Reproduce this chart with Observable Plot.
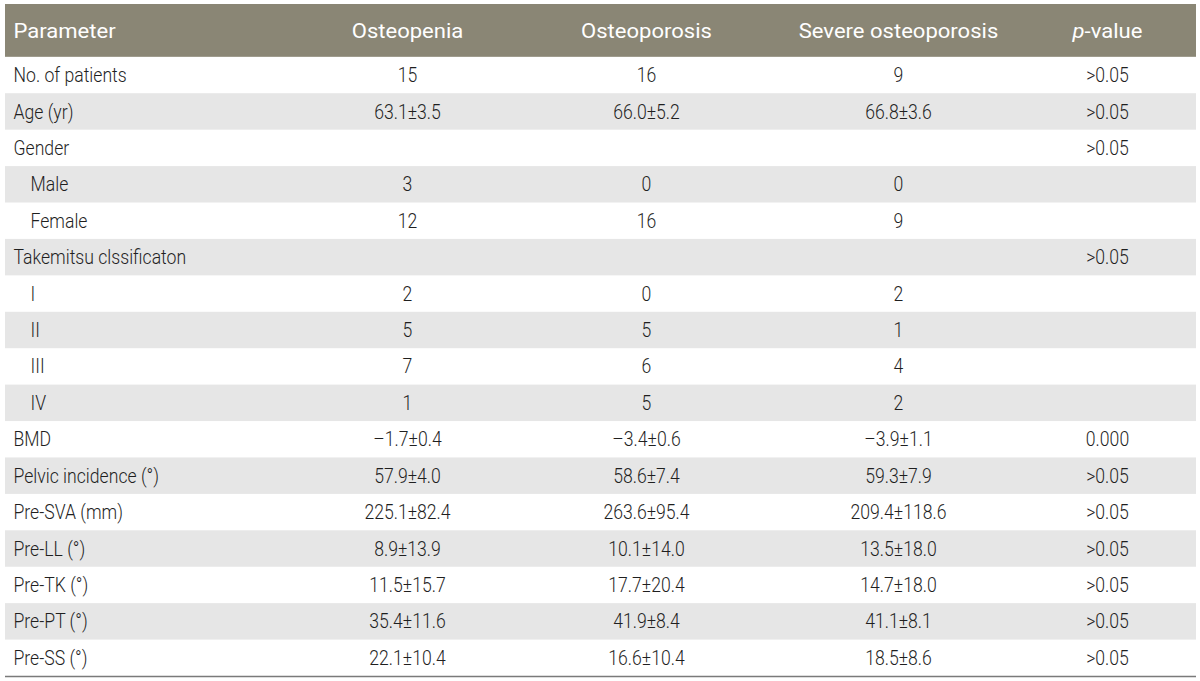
<!DOCTYPE html>
<html><head><meta charset="utf-8">
<script src="https://cdn.jsdelivr.net/npm/d3@7"></script>
<script src="https://cdn.jsdelivr.net/npm/@observablehq/plot@0.6"></script>
<style>body{margin:0;background:#fff}</style>
</head><body><div id="chart"></div>
<script>
// ---- data ----
const columns = ["Parameter", "Osteopenia", "Osteoporosis", "Severe osteoporosis", "p-value"];
const parameters = ["No. of patients", "Age (yr)", "Gender", "Male", "Female", "Takemitsu clssificaton", "I", "II", "III", "IV", "BMD", "Pelvic incidence (°)", "Pre-SVA (mm)", "Pre-LL (°)", "Pre-TK (°)", "Pre-PT (°)", "Pre-SS (°)"];
const indented = [false, false, false, true, true, false, true, true, true, true, false, false, false, false, false, false, false];
const osteopenia = ["15", "63.1±3.5", "", "3", "12", "", "2", "5", "7", "1", "–1.7±0.4", "57.9±4.0", "225.1±82.4", "8.9±13.9", "11.5±15.7", "35.4±11.6", "22.1±10.4"];
const osteoporosis = ["16", "66.0±5.2", "", "0", "16", "", "0", "5", "6", "5", "–3.4±0.6", "58.6±7.4", "263.6±95.4", "10.1±14.0", "17.7±20.4", "41.9±8.4", "16.6±10.4"];
const severe = ["9", "66.8±3.6", "", "0", "9", "", "2", "1", "4", "2", "–3.9±1.1", "59.3±7.9", "209.4±118.6", "13.5±18.0", "14.7±18.0", "41.1±8.1", "18.5±8.6"];
const pValues = [">0.05", ">0.05", ">0.05", "", "", ">0.05", "", "", "", "", "0.000", ">0.05", ">0.05", ">0.05", ">0.05", ">0.05", ">0.05"];

// ---- layout ----
const colX = {"Parameter": 13, "Osteopenia": 407, "Osteoporosis": 646, "Severe osteoporosis": 898, "p-value": 1107};
const indentX = 30;
const tableLeft = 5, tableRight = 1196;
const headerRows = 1.45;
const headerFill = "#8a8675", stripeFill = "#e6e6e6", textFill = "#1f1f1f";
const font = "Roboto, 'DejaVu Sans Condensed', sans-serif";
const bodySize = 20.5, bodyStretch = 0.86, headerSize = 21, headerStretch = 1.05;

const rows = parameters.map((p, i) => ({i, p, ind: indented[i]}));
const cells = [];
parameters.forEach((p, i) => {
  [["Osteopenia", osteopenia], ["Osteoporosis", osteoporosis], ["Severe osteoporosis", severe], ["p-value", pValues]]
    .forEach(([c, arr]) => { if (arr[i] !== "") cells.push({i, c, v: arr[i]}); });
});
const header = columns.map(c => ({c}));
const n = parameters.length;

const chart = Plot.plot({
  width: 1200, height: 681,
  margin: 0,
  style: {fontFamily: font, background: "#fff"},
  x: {type: "linear", domain: [0, 1200], range: [0, 1200], axis: null},
  y: {type: "linear", domain: [-headerRows, n], range: [4, 676], axis: null},
  marks: [
    Plot.rect([0], {x1: tableLeft, x2: tableRight, y1: -headerRows, y2: 0, fill: headerFill}),
    Plot.rect(rows.filter(d => d.i % 2 === 1), {x1: tableLeft, x2: tableRight, y1: d => d.i, y2: d => d.i + 1, fill: stripeFill}),
    Plot.ruleY([n], {x1: tableLeft, x2: tableRight, stroke: "#7a7a7a", strokeWidth: 1.5}),
    Plot.text(header.filter(d => d.c === "Parameter"), {x: d => colX[d.c], y: -headerRows / 2, text: "c", fill: "#fff", fontSize: headerSize, fontWeight: 400, textAnchor: "start", className: "hdr"}),
    Plot.text(header.filter(d => d.c !== "Parameter"), {x: d => colX[d.c], y: -headerRows / 2, text: "c", fill: "#fff", fontSize: headerSize, fontWeight: 400, textAnchor: "middle", className: "hdr"}),
    Plot.text(rows, {x: d => d.ind ? indentX : colX["Parameter"], y: d => d.i + 0.5, text: "p", fill: textFill, fontSize: bodySize, fontWeight: 300, textAnchor: "start", className: "body"}),
    Plot.text(cells, {x: d => colX[d.c], y: d => d.i + 0.5, text: "v", fill: textFill, fontSize: bodySize, fontWeight: 300, textAnchor: "middle", className: "body"})
  ]
});
// condensed look: squeeze each label horizontally about its anchor
chart.querySelectorAll("g.body text").forEach(t => {
  t.setAttribute("transform", (t.getAttribute("transform") || "") + ` scale(${bodyStretch},1)`);
});
chart.querySelectorAll("g.hdr text").forEach(t => {
  t.setAttribute("transform", (t.getAttribute("transform") || "") + ` scale(${headerStretch},1)`);
});
// italic p in "p-value"
const ns = "http://www.w3.org/2000/svg";
chart.querySelectorAll("text").forEach(t => {
  if (t.textContent === "p-value") {
    t.textContent = "";
    const a = document.createElementNS(ns, "tspan"); a.setAttribute("font-style", "italic"); a.textContent = "p";
    const b = document.createElementNS(ns, "tspan"); b.textContent = "-value";
    t.append(a, b);
  }
});
document.getElementById("chart").append(chart);
</script>
</body></html>
